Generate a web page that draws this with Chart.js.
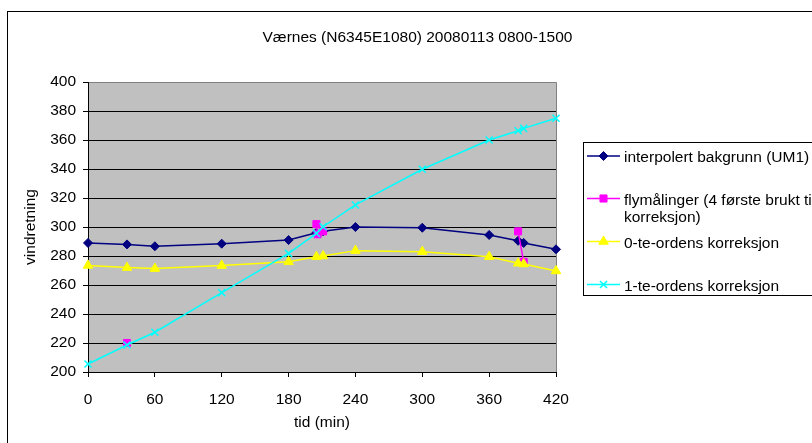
<!DOCTYPE html>
<html>
<head>
<meta charset="utf-8">
<script src="https://cdn.jsdelivr.net/npm/chart.js@4/dist/chart.umd.min.js"></script>
<style>
  html, body { margin: 0; padding: 0; background: #fff; overflow: hidden; width: 812px; height: 443px; }
  #wrap { position: absolute; left: 0; top: 0; width: 835px; height: 443px; }
  canvas { display: block; }
</style>
</head>
<body>
<div id="wrap"><canvas id="c" width="835" height="443"></canvas></div>
<script>
// ---- data ----
const chartTitle = 'Værnes (N6345E1080) 20080113 0800-1500';
const xTitle = 'tid (min)';
const yTitle = 'vindretning';

const times    = [0, 35, 60, 120, 180, 205, 211, 240, 300, 360, 386, 391, 420];
const bakgrunn = [289, 288, 286.7, 288.5, 291, 296, 297, 300, 299.5, 294.5, 290.5, 289, 284.6];
const korr0    = [273.5, 272, 271.3, 273.4, 276, 279.5, 280, 283.7, 283, 279.5, 275, 274.5, 269.7];
const korr1    = [205.5, 218.6, 227.4, 254.7, 281.8, 295.6, 300.2, 315.2, 339.8, 360, 366.4, 368, 375];

// aircraft measurements (null = break in the line)
const flyTimes  = [35, 120, 205, 206, 211, 300, 386, 391];
const flyValues = [220, null, 302, 295, 297, null, 297, 276];

const seriesLabels = [
  ['interpolert bakgrunn (UM1)'],
  ['flymålinger (4 første brukt til', 'korreksjon)'],
  ['0-te-ordens korreksjon'],
  ['1-te-ordens korreksjon']
];

const xMin = 0, xMax = 420, xStep = 60;
const yMin = 200, yMax = 400, yStep = 20;

// ---- helpers ----
const pts = (xs, ys) => xs.map((x, i) => ({ x: x, y: ys[i] }));
const FONT = "'Liberation Sans', Arial, sans-serif";
const FS = 15.5;

const frameAndBg = {
  id: 'frameAndBg',
  beforeDraw(chart) {
    const ctx = chart.ctx, a = chart.chartArea;
    ctx.save();
    ctx.fillStyle = '#fff';
    ctx.fillRect(0, 0, chart.width, chart.height);
    ctx.strokeStyle = '#000';
    ctx.lineWidth = 1;
    ctx.strokeRect(7.5, 11.5, chart.width + 50, chart.height + 50);
    ctx.fillStyle = '#C0C0C0';
    ctx.fillRect(a.left, a.top, a.right - a.left, a.bottom - a.top);
    ctx.restore();
  },
  beforeDatasetsDraw(chart) {
    const ctx = chart.ctx, a = chart.chartArea;
    ctx.save();
    ctx.strokeStyle = '#808080';
    ctx.lineWidth = 1;
    ctx.beginPath();
    ctx.moveTo(a.left + 1, Math.round(a.top) + 0.5);
    ctx.lineTo(Math.round(a.right) + 0.5, Math.round(a.top) + 0.5);
    ctx.lineTo(Math.round(a.right) + 0.5, a.bottom);
    ctx.stroke();
    ctx.restore();
  }
};

function drawMarker(ctx, ds, x, y) {
  const opts = { pointStyle: ds.pointStyle, radius: ds.pointRadius, rotation: 0, borderWidth: ds.pointBorderWidth };
  ctx.fillStyle = ds.pointBackgroundColor;
  ctx.strokeStyle = ds.pointBorderColor;
  ctx.lineWidth = ds.pointBorderWidth;
  if (Chart.helpers && Chart.helpers.drawPoint) {
    Chart.helpers.drawPoint(ctx, opts, x, y);
  }
}

const xlLegend = {
  id: 'xlLegend',
  afterDraw(chart) {
    const ctx = chart.ctx;
    ctx.save();
    ctx.fillStyle = '#fff';
    ctx.fillRect(583.5, 142.5, 300, 153);
    ctx.strokeStyle = '#000';
    ctx.lineWidth = 1;
    ctx.strokeRect(583.5, 142.5, 300, 153);
    const rowY = [156, 198.5, 241.5, 284.5];
    chart.data.datasets.forEach((ds, i) => {
      const y = rowY[i];
      ctx.strokeStyle = ds.borderColor;
      ctx.lineWidth = ds.borderWidth;
      ctx.beginPath();
      ctx.moveTo(587, y);
      ctx.lineTo(620, y);
      ctx.stroke();
      drawMarker(ctx, ds, 603.5, y);
      ctx.fillStyle = '#000';
      ctx.font = FS + 'px ' + FONT;
      ctx.textAlign = 'left';
      ctx.textBaseline = 'middle';
      seriesLabels[i].forEach((t, k) => ctx.fillText(t, 624, y + 2 + k * 17));
    });
    ctx.restore();
  }
};

const common = { borderWidth: 1.5, showLine: true, fill: false, tension: 0, spanGaps: false, clip: false, pointHoverRadius: 5 };

new Chart(document.getElementById('c'), {
  type: 'line',
  data: {
    datasets: [
      Object.assign({}, common, {
        label: seriesLabels[0].join(' '),
        data: pts(times, bakgrunn),
        borderColor: '#000080', pointBackgroundColor: '#000080', pointBorderColor: '#000080',
        pointStyle: 'rectRot', pointRadius: 4.5, pointBorderWidth: 1, order: 3
      }),
      Object.assign({}, common, {
        label: seriesLabels[1].join(' '),
        data: pts(flyTimes, flyValues),
        borderColor: '#FF00FF', pointBackgroundColor: '#FF00FF', pointBorderColor: '#FF00FF',
        pointStyle: 'rect', pointRadius: 5, pointBorderWidth: 1, order: 2
      }),
      Object.assign({}, common, {
        label: seriesLabels[2].join(' '),
        data: pts(times, korr0),
        borderColor: '#FFFF00', pointBackgroundColor: '#FFFF00', pointBorderColor: '#FFFF00',
        pointStyle: 'triangle', pointRadius: 5.5, pointBorderWidth: 1, order: 1
      }),
      Object.assign({}, common, {
        label: seriesLabels[3].join(' '),
        data: pts(times, korr1),
        borderColor: '#00FFFF', pointBackgroundColor: '#00FFFF', pointBorderColor: '#00FFFF',
        pointStyle: 'crossRot', pointRadius: 5, pointBorderWidth: 1.5, order: 0
      })
    ]
  },
  options: {
    responsive: false,
    animation: false,
    events: [],
    layout: { padding: 0 },
    plugins: {
      legend: { display: false },
      tooltip: { enabled: false },
      title: {
        display: true, text: chartTitle, color: '#000',
        font: { family: FONT, size: FS, weight: 'normal', lineHeight: 1.2 },
        padding: { top: 28, bottom: 35.4 }
      }
    },
    scales: {
      x: {
        type: 'linear', min: xMin, max: xMax,
        afterFit(s) { s.height = 71; },
        ticks: { stepSize: xStep, color: '#000', padding: 13, maxRotation: 0, font: { family: FONT, size: FS } },
        grid: { drawOnChartArea: false, drawTicks: true, tickLength: 5, color: '#000' },
        border: { display: true, color: '#000', width: 1 },
        title: { display: true, text: xTitle, color: '#000', font: { family: FONT, size: FS, lineHeight: 1.2 }, padding: { top: 0, bottom: 11 } }
      },
      y: {
        type: 'linear', min: yMin, max: yMax,
        afterFit(s) { s.width = 88; },
        ticks: { stepSize: yStep, color: '#000', padding: 7, font: { family: FONT, size: FS } },
        grid: { drawTicks: true, tickLength: 5, color: '#000', lineWidth: 1 },
        border: { display: true, color: '#000', width: 1 },
        title: { display: true, text: yTitle, color: '#000', font: { family: FONT, size: FS, lineHeight: 1.2 }, padding: { top: 21, bottom: 0 } }
      },
      yRightSpace: {
        type: 'linear', position: 'right', min: yMin, max: yMax,
        afterFit(s) { s.width = 835 - 556; },
        ticks: { display: false },
        grid: { display: false, drawTicks: false },
        border: { display: false },
        title: { display: false }
      }
    }
  },
  plugins: [frameAndBg, xlLegend]
});
</script>
</body>
</html>
